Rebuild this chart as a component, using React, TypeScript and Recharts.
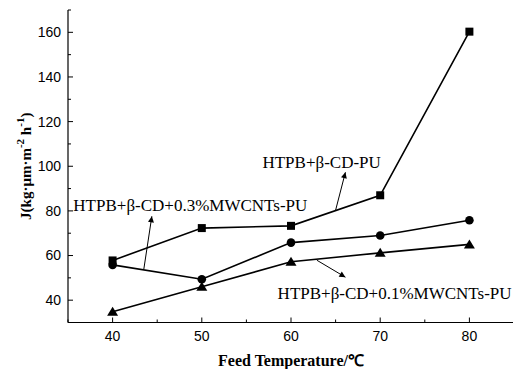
import { LineChart, Line, XAxis, YAxis, ReferenceLine, ReferenceDot } from "recharts";

const temps = [40, 50, 60, 70, 80];
const cdPu = [57.8, 72.3, 73.3, 87, 160.3];
const cnt03 = [55.8, 49.4, 65.8, 69, 75.8];
const cnt01 = [34.8, 46, 57.2, 61.2, 65];

const xTicks = [35, 40, 45, 50, 55, 60, 65, 70, 75, 80, 85];
const yTicks = [30, 40, 50, 60, 70, 80, 90, 100, 110, 120, 130, 140, 150, 160, 170];

const data = temps.map((t, i) => ({ t, a: cdPu[i], b: cnt03[i], c: cnt01[i] }));

// annotation positions, in data units
const notes = [
  { text: "HTPB+β-CD-PU", x: 56.8, y: 101.8, from: [65, 80.3], to: [66.1, 97.3] },
  { text: "HTPB+β-CD+0.3%MWCNTs-PU", x: 35.6, y: 82.5, from: [43.5, 53.9], to: [44.4, 77.6] },
  { text: "HTPB+β-CD+0.1%MWCNTs-PU", x: 58.5, y: 43.1, from: [62.9, 57.9], to: [66.1, 50.3] },
];

const SANS = "'Liberation Sans', Arial, sans-serif";
const SERIF = "'Liberation Serif', 'Times New Roman', serif";

// eslint-disable-next-line @typescript-eslint/no-explicit-any
function BottomTick({ x, y, payload }: any) {
  const v = payload.value;
  const major = v % 10 === 0;
  return (
    <g>
      <line x1={x} x2={x} y1={y} y2={y - (major ? 5 : 3)} stroke="#000" />
      {major && (
        <text x={x} y={y + 18.5} textAnchor="middle" fontFamily={SANS} fontSize={14} fill="#000">{v}</text>
      )}
    </g>
  );
}

// eslint-disable-next-line @typescript-eslint/no-explicit-any
function TopTick({ x, y }: any) {
  return <line x1={x} x2={x} y1={y} y2={y + 3} stroke="#444" />;
}

// eslint-disable-next-line @typescript-eslint/no-explicit-any
function LeftTick({ x, y, payload }: any) {
  const v = payload.value;
  const major = v % 20 === 0;
  return (
    <g>
      <line x1={x} x2={x + (major ? 5 : 3)} y1={y} y2={y} stroke="#000" />
      {major && v >= 40 && v <= 160 && (
        <text x={x - 7} y={y} dy="0.35em" textAnchor="end" fontFamily={SANS} fontSize={14} fill="#000">{v}</text>
      )}
    </g>
  );
}

// eslint-disable-next-line @typescript-eslint/no-explicit-any
const Square = (p: any) => <rect key={p.index} x={p.cx - 4} y={p.cy - 4} width={8} height={8} fill="#000" />;
// eslint-disable-next-line @typescript-eslint/no-explicit-any
const Circle = (p: any) => <circle key={p.index} cx={p.cx} cy={p.cy} r={4.3} fill="#000" />;
// eslint-disable-next-line @typescript-eslint/no-explicit-any
const Tri = (p: any) => (
  <path key={p.index} d={`M${p.cx},${p.cy - 5} L${p.cx + 5.5},${p.cy + 4} L${p.cx - 5.5},${p.cy + 4} Z`} fill="#000" />
);

export default function App() {
  return (
    <div style={{ position: "fixed", left: 0, top: 0, width: 513, height: 369, overflow: "hidden", background: "#fff" }}>
      <LineChart width={520} height={369} data={data} margin={{ top: 10, right: 6, bottom: 0, left: 0 }}>
        <defs>
          <marker id="arr" viewBox="0 0 10 10" refX={10} refY={5} markerWidth={8} markerHeight={6}
            markerUnits="userSpaceOnUse" orient="auto">
            <path d="M0,0 L10,5 L0,10 z" fill="#000" />
          </marker>
        </defs>
        <XAxis xAxisId="b" dataKey="t" type="number" domain={[35, 85]} ticks={xTicks} interval={0}
          height={46.5} tickSize={0} tickMargin={0} tick={<BottomTick />} stroke="#000" strokeWidth={1.2}
          label={{
            // eslint-disable-next-line @typescript-eslint/no-explicit-any
            content: ({ viewBox }: any) => (
              <text x={viewBox.x + viewBox.width / 2} y={viewBox.y + 43} textAnchor="middle"
                fontFamily={SERIF} fontWeight="bold" fontSize={16} fill="#000">Feed Temperature/℃</text>
            ),
          }} />
        <XAxis xAxisId="top" orientation="top" dataKey="t" type="number" domain={[35, 85]} ticks={xTicks}
          interval={0} height={0} tickSize={0} tickMargin={0} tick={<TopTick />} stroke="#555" />
        <YAxis type="number" domain={[30, 170]} ticks={yTicks} interval={0} width={68}
          tickSize={0} tickMargin={0} tick={<LeftTick />} stroke="#000" strokeWidth={1.2}
          label={{
            // eslint-disable-next-line @typescript-eslint/no-explicit-any
            content: ({ viewBox }: any) => {
              const cx = 26;
              const cy = viewBox.y + viewBox.height / 2;
              return (
                <text x={cx} y={cy} transform={`rotate(-90, ${cx}, ${cy})`} textAnchor="middle" dominantBaseline="central"
                  fontFamily={SERIF} fontWeight="bold" fontSize={15} fill="#000">
                  J(kg·μm·m<tspan dy={-6} fontSize={11}>-2</tspan><tspan dy={6}> h</tspan>
                  <tspan dy={-6} fontSize={11}>-1</tspan><tspan dy={6}>)</tspan>
                </text>
              );
            },
          }} />
        <Line xAxisId="b" dataKey="a" stroke="#000" strokeWidth={1.6} dot={Square} activeDot={false} isAnimationActive={false} />
        <Line xAxisId="b" dataKey="b" stroke="#000" strokeWidth={1.6} dot={Circle} activeDot={false} isAnimationActive={false} />
        <Line xAxisId="b" dataKey="c" stroke="#000" strokeWidth={1.6} dot={Tri} activeDot={false} isAnimationActive={false} />
        {notes.map((n) => (
          <ReferenceLine key={"l" + n.text} xAxisId="b"
            segment={[{ x: n.from[0], y: n.from[1] }, { x: n.to[0], y: n.to[1] }]}
            // eslint-disable-next-line @typescript-eslint/no-explicit-any
            shape={(p: any) => (
              <line x1={p.x1} y1={p.y1} x2={p.x2} y2={p.y2} stroke="#000" strokeWidth={1} markerEnd="url(#arr)" />
            )} />
        ))}
        {notes.map((n) => (
          <ReferenceDot key={"t" + n.text} xAxisId="b" x={n.x} y={n.y} r={0}
            // eslint-disable-next-line @typescript-eslint/no-explicit-any
            shape={(p: any) => (
              <text x={p.cx} y={p.cy} dominantBaseline="central" fontFamily={SERIF} fontSize={17} fill="#000">{n.text}</text>
            )} />
        ))}
      </LineChart>
    </div>
  );
}
